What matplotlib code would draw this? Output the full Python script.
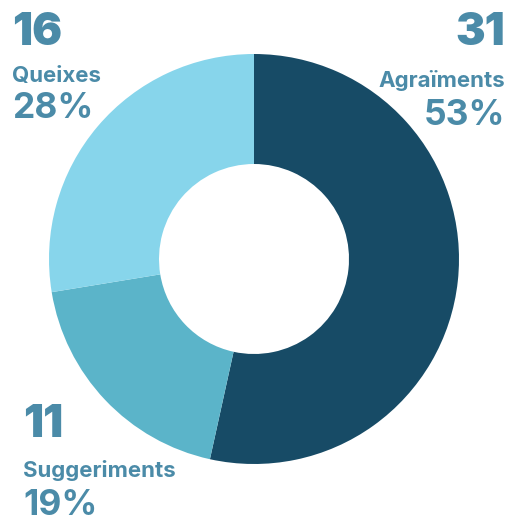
import matplotlib
matplotlib.use('Agg')
import matplotlib.pyplot as plt

# dades
labels = ['Agraïments', 'Suggeriments', 'Queixes']
counts = [31, 11, 16]
colors = ['#174B66', '#5BB4C9', '#87D5EB']
text_color = '#4B8BA8'

W, H = 508, 517
fig = plt.figure(figsize=(W / 100, H / 100), dpi=100)
ax = fig.add_axes([0, 0, 1, 1])

ax.pie(counts, colors=colors, radius=205, center=(254, H - 259),
       startangle=90, counterclock=False,
       wedgeprops=dict(width=110, linewidth=0))
ax.set_xlim(0, W)
ax.set_ylim(0, H)
ax.set_aspect('equal')
ax.axis('off')

total = sum(counts)
pcts = [f'{round(100 * c / total)}%' for c in counts]

font = 'Inter'
# (x, línies base y, alineació) per a cada etiqueta
places = {
    'Agraïments': (505, [45, 87, 125], 'right'),
    'Suggeriments': (23, [437, 477, 515], 'left'),
    'Queixes': (12, [45, 82, 118], 'left'),
}
for lab, c, p in zip(labels, counts, pcts):
    x, ys, ha = places[lab]
    ax.text(x, H - ys[0], str(c), fontsize=32, fontweight='black', family=font,
            color=text_color, ha=ha, va='baseline')
    ax.text(x, H - ys[1], lab, fontsize=16, fontweight='bold', family=font,
            color=text_color, ha=ha, va='baseline')
    ax.text(x, H - ys[2], p, fontsize=25.5, fontweight='bold', family=font,
            color=text_color, ha=ha, va='baseline')

plt.savefig('out.png', dpi=100)
